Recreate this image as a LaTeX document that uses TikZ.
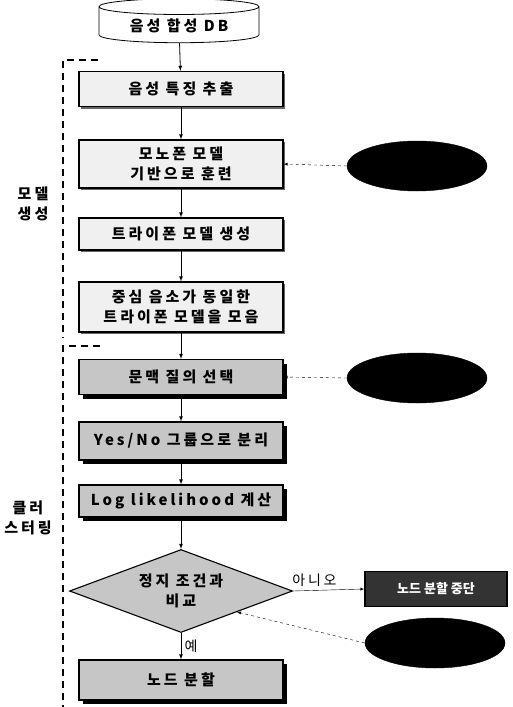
\documentclass[tikz,border=0pt]{standalone}
\usepackage{fontspec}
\setmainfont{Noto Sans CJK KR}
\newfontfamily\wide[LetterSpace=20]{Noto Sans CJK KR}
\usetikzlibrary{shapes.geometric,shadows}
\begin{document}
\begin{tikzpicture}[x=1pt,y=-1pt, every node/.style={font=\wide\bfseries\fontsize{15}{20}\selectfont}]
  \tikzstyle{stepbox}=[draw,line width=1.1pt,minimum width=204pt,minimum height=35pt,align=center,inner sep=1pt]
  \tikzstyle{lightbox}=[stepbox,fill=gray!12,drop shadow={shadow xshift=2pt,shadow yshift=-2pt,opacity=1,fill=black!60}]
  \tikzstyle{darkbox}=[stepbox,fill=gray!45,drop shadow={shadow xshift=4pt,shadow yshift=-4pt,opacity=1,fill=black}]
  \tikzstyle{blob}=[ellipse,draw,fill=black,minimum width=140pt,minimum height=50pt]
  \tikzstyle{group}=[line width=1.2pt,dash pattern=on 7pt off 5pt]
  \useasboundingbox (0,0) rectangle (512,707);
  \node[cylinder,shape border rotate=90,draw,thick,aspect=0.15,minimum width=160pt,minimum height=44pt] (db) at (179,26) {음성 합성 DB};
  \node[lightbox] (feat) at (181,89) {음성 특징 추출};
  \node[lightbox,minimum height=48pt] (mono) at (181,164) {모노폰 모델\\기반으로 훈련};
  \node[lightbox,minimum height=32pt] (tri) at (181,234) {트라이폰 모델 생성};
  \node[lightbox,minimum height=50pt] (tie) at (181,307) {중심 음소가 동일한\\트라이폰 모델을 모음};
  \node[darkbox] (ques) at (181,377) {문맥 질의 선택};
  \node[darkbox,minimum height=38pt] (split) at (181,441) {Yes/No 그룹으로 분리};
  \node[darkbox,minimum height=32pt] (llk) at (181,501) {Log likelihood 계산};
  \node[diamond,draw,line width=1.1pt,fill=gray!45,aspect=2.7,minimum width=223pt,minimum height=83pt,inner sep=0pt,align=center] (stop) at (181,591) {정지 조건과\\비교};
  \node[darkbox,minimum height=40pt] (split2) at (181,680) {노드 분할};
  \node[draw,line width=1.1pt,fill=black!80,text=white,minimum width=142pt,minimum height=35pt,font=\bfseries\fontsize{13}{15}\selectfont] (halt) at (436,589) {노드 분할 중단};
  \node[blob] (q1) at (417,166) {};
  \node[blob] (q2) at (417,378) {};
  \node[blob] (q3) at (435,643) {};
  \node[align=center] (lab1) at (33,204) {모델\\생성};
  \node[align=center] (lab2) at (28,518) {클러\\스터링};
  % flow
  \draw[-latex,thick] (db) -- (feat);
  \draw[-latex,thick] (feat) -- (mono);
  \draw[-latex,thick] (mono) -- (tri);
  \draw[-latex,thick] (tri) -- (tie);
  \draw[-latex,thick] (tie) -- (ques);
  \draw[-latex,thick] (ques) -- (split);
  \draw[-latex,thick] (split) -- (llk);
  \draw[-latex,thick] (llk) -- (stop);
  \draw[-latex,thick] (stop) -- node[right,font=\wide\fontsize{14}{16}\selectfont] {예} (split2);
  \draw[-latex] (stop.east) -- node[above,pos=0.3,font=\wide\fontsize{14}{16}\selectfont] {아니오} (halt.west);
  \draw[-latex,dashed] (q1.west) -- (mono.east);
  \draw[-latex,dashed] (q2.west) -- (ques.east);
  \draw[-latex,dashed] (q3.west) -- (stop.south east);
  % groups
  \draw[group] (98,60) -- (63,60) -- (63,338);
  \draw[group] (100,346) -- (63,346) -- (63,707);
\end{tikzpicture}
\end{document}
